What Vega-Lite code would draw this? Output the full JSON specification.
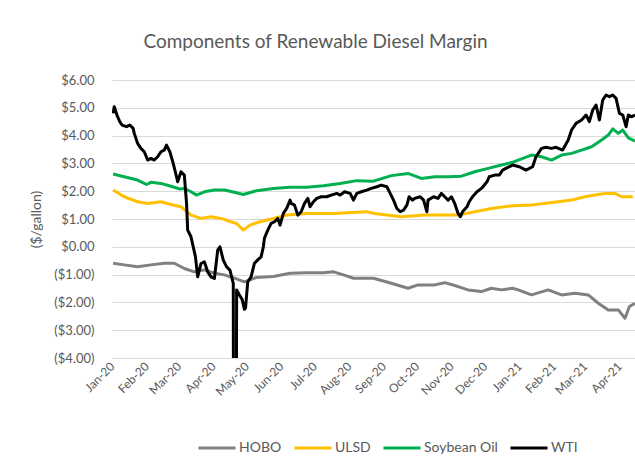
{
  "$schema": "https://vega.github.io/schema/vega-lite/v6.json",
  "width": 523,
  "height": 278,
  "autosize": {"type": "none"},
  "padding": {"left": 112, "top": 80, "right": 0, "bottom": 108},
  "background": "white",
  "config": {
    "view": {"stroke": null},
    "font": "Lato"
  },
  "title": {
    "text": "Components of Renewable Diesel Margin",
    "anchor": "middle",
    "dx": -58,
    "offset": 22,
    "fontSize": 19,
    "font": "Lato",
    "fontWeight": "normal",
    "color": "#595959"
  },
  "data": {
    "values": [
      {"d": "2020-01-02", "s": "HOBO", "v": -0.59},
      {"d": "2020-01-12", "s": "HOBO", "v": -0.65},
      {"d": "2020-01-24", "s": "HOBO", "v": -0.72},
      {"d": "2020-02-05", "s": "HOBO", "v": -0.65},
      {"d": "2020-02-17", "s": "HOBO", "v": -0.59},
      {"d": "2020-02-26", "s": "HOBO", "v": -0.59},
      {"d": "2020-03-06", "s": "HOBO", "v": -0.78},
      {"d": "2020-03-15", "s": "HOBO", "v": -0.9},
      {"d": "2020-03-24", "s": "HOBO", "v": -0.83},
      {"d": "2020-04-02", "s": "HOBO", "v": -0.95},
      {"d": "2020-04-11", "s": "HOBO", "v": -1.01},
      {"d": "2020-04-20", "s": "HOBO", "v": -1.13},
      {"d": "2020-04-29", "s": "HOBO", "v": -1.26},
      {"d": "2020-05-10", "s": "HOBO", "v": -1.1},
      {"d": "2020-05-25", "s": "HOBO", "v": -1.07},
      {"d": "2020-06-09", "s": "HOBO", "v": -0.95},
      {"d": "2020-06-24", "s": "HOBO", "v": -0.93},
      {"d": "2020-07-09", "s": "HOBO", "v": -0.93},
      {"d": "2020-07-18", "s": "HOBO", "v": -0.9},
      {"d": "2020-07-27", "s": "HOBO", "v": -1.01},
      {"d": "2020-08-05", "s": "HOBO", "v": -1.13},
      {"d": "2020-08-23", "s": "HOBO", "v": -1.13},
      {"d": "2020-09-08", "s": "HOBO", "v": -1.31},
      {"d": "2020-09-23", "s": "HOBO", "v": -1.49},
      {"d": "2020-10-02", "s": "HOBO", "v": -1.37},
      {"d": "2020-10-17", "s": "HOBO", "v": -1.37},
      {"d": "2020-10-26", "s": "HOBO", "v": -1.29},
      {"d": "2020-11-07", "s": "HOBO", "v": -1.43},
      {"d": "2020-11-16", "s": "HOBO", "v": -1.55},
      {"d": "2020-11-28", "s": "HOBO", "v": -1.61},
      {"d": "2020-12-07", "s": "HOBO", "v": -1.49},
      {"d": "2020-12-16", "s": "HOBO", "v": -1.55},
      {"d": "2020-12-26", "s": "HOBO", "v": -1.49},
      {"d": "2020-12-31", "s": "HOBO", "v": -1.55},
      {"d": "2021-01-12", "s": "HOBO", "v": -1.73},
      {"d": "2021-01-27", "s": "HOBO", "v": -1.55},
      {"d": "2021-02-08", "s": "HOBO", "v": -1.73},
      {"d": "2021-02-20", "s": "HOBO", "v": -1.67},
      {"d": "2021-03-04", "s": "HOBO", "v": -1.73},
      {"d": "2021-03-13", "s": "HOBO", "v": -2.03},
      {"d": "2021-03-22", "s": "HOBO", "v": -2.27},
      {"d": "2021-03-31", "s": "HOBO", "v": -2.27},
      {"d": "2021-04-06", "s": "HOBO", "v": -2.57},
      {"d": "2021-04-10", "s": "HOBO", "v": -2.15},
      {"d": "2021-04-15", "s": "HOBO", "v": -2.03},

      {"d": "2020-01-02", "s": "ULSD", "v": 2.04},
      {"d": "2020-01-12", "s": "ULSD", "v": 1.8},
      {"d": "2020-01-24", "s": "ULSD", "v": 1.62},
      {"d": "2020-02-02", "s": "ULSD", "v": 1.56},
      {"d": "2020-02-14", "s": "ULSD", "v": 1.62},
      {"d": "2020-02-23", "s": "ULSD", "v": 1.52},
      {"d": "2020-03-03", "s": "ULSD", "v": 1.44},
      {"d": "2020-03-12", "s": "ULSD", "v": 1.14},
      {"d": "2020-03-21", "s": "ULSD", "v": 1.02},
      {"d": "2020-03-30", "s": "ULSD", "v": 1.08},
      {"d": "2020-04-08", "s": "ULSD", "v": 1.02},
      {"d": "2020-04-17", "s": "ULSD", "v": 0.9},
      {"d": "2020-04-22", "s": "ULSD", "v": 0.84},
      {"d": "2020-04-28", "s": "ULSD", "v": 0.6},
      {"d": "2020-05-04", "s": "ULSD", "v": 0.78},
      {"d": "2020-05-13", "s": "ULSD", "v": 0.9},
      {"d": "2020-05-25", "s": "ULSD", "v": 1.02},
      {"d": "2020-06-06", "s": "ULSD", "v": 1.14},
      {"d": "2020-06-24", "s": "ULSD", "v": 1.2},
      {"d": "2020-07-18", "s": "ULSD", "v": 1.2},
      {"d": "2020-08-17", "s": "ULSD", "v": 1.26},
      {"d": "2020-08-24", "s": "ULSD", "v": 1.2},
      {"d": "2020-09-17", "s": "ULSD", "v": 1.08},
      {"d": "2020-10-08", "s": "ULSD", "v": 1.14},
      {"d": "2020-11-07", "s": "ULSD", "v": 1.14},
      {"d": "2020-11-22", "s": "ULSD", "v": 1.26},
      {"d": "2020-12-07", "s": "ULSD", "v": 1.38},
      {"d": "2020-12-26", "s": "ULSD", "v": 1.48},
      {"d": "2021-01-12", "s": "ULSD", "v": 1.5},
      {"d": "2021-02-05", "s": "ULSD", "v": 1.62},
      {"d": "2021-02-17", "s": "ULSD", "v": 1.68},
      {"d": "2021-03-01", "s": "ULSD", "v": 1.8},
      {"d": "2021-03-10", "s": "ULSD", "v": 1.86},
      {"d": "2021-03-19", "s": "ULSD", "v": 1.92},
      {"d": "2021-03-28", "s": "ULSD", "v": 1.92},
      {"d": "2021-04-03", "s": "ULSD", "v": 1.8},
      {"d": "2021-04-13", "s": "ULSD", "v": 1.8},

      {"d": "2020-01-02", "s": "Soybean Oil", "v": 2.62},
      {"d": "2020-01-12", "s": "Soybean Oil", "v": 2.52},
      {"d": "2020-01-24", "s": "Soybean Oil", "v": 2.4},
      {"d": "2020-02-01", "s": "Soybean Oil", "v": 2.24},
      {"d": "2020-02-05", "s": "Soybean Oil", "v": 2.32},
      {"d": "2020-02-14", "s": "Soybean Oil", "v": 2.28},
      {"d": "2020-02-23", "s": "Soybean Oil", "v": 2.18},
      {"d": "2020-03-02", "s": "Soybean Oil", "v": 2.08},
      {"d": "2020-03-06", "s": "Soybean Oil", "v": 2.1},
      {"d": "2020-03-12", "s": "Soybean Oil", "v": 1.98},
      {"d": "2020-03-17", "s": "Soybean Oil", "v": 1.86},
      {"d": "2020-03-24", "s": "Soybean Oil", "v": 1.98},
      {"d": "2020-04-02", "s": "Soybean Oil", "v": 2.04},
      {"d": "2020-04-11", "s": "Soybean Oil", "v": 2.04},
      {"d": "2020-04-20", "s": "Soybean Oil", "v": 1.96},
      {"d": "2020-04-28", "s": "Soybean Oil", "v": 1.88},
      {"d": "2020-05-10", "s": "Soybean Oil", "v": 2.02},
      {"d": "2020-05-25", "s": "Soybean Oil", "v": 2.1},
      {"d": "2020-06-09", "s": "Soybean Oil", "v": 2.14},
      {"d": "2020-06-24", "s": "Soybean Oil", "v": 2.14},
      {"d": "2020-07-09", "s": "Soybean Oil", "v": 2.2},
      {"d": "2020-07-24", "s": "Soybean Oil", "v": 2.28},
      {"d": "2020-08-08", "s": "Soybean Oil", "v": 2.38},
      {"d": "2020-08-23", "s": "Soybean Oil", "v": 2.36},
      {"d": "2020-09-08", "s": "Soybean Oil", "v": 2.56},
      {"d": "2020-09-23", "s": "Soybean Oil", "v": 2.64},
      {"d": "2020-10-05", "s": "Soybean Oil", "v": 2.46},
      {"d": "2020-10-17", "s": "Soybean Oil", "v": 2.52},
      {"d": "2020-10-29", "s": "Soybean Oil", "v": 2.52},
      {"d": "2020-11-10", "s": "Soybean Oil", "v": 2.54},
      {"d": "2020-11-22", "s": "Soybean Oil", "v": 2.7},
      {"d": "2020-12-04", "s": "Soybean Oil", "v": 2.82},
      {"d": "2020-12-16", "s": "Soybean Oil", "v": 2.94},
      {"d": "2020-12-26", "s": "Soybean Oil", "v": 3.04},
      {"d": "2020-12-31", "s": "Soybean Oil", "v": 3.12},
      {"d": "2021-01-12", "s": "Soybean Oil", "v": 3.3},
      {"d": "2021-01-21", "s": "Soybean Oil", "v": 3.24},
      {"d": "2021-01-30", "s": "Soybean Oil", "v": 3.12},
      {"d": "2021-02-08", "s": "Soybean Oil", "v": 3.3},
      {"d": "2021-02-17", "s": "Soybean Oil", "v": 3.36},
      {"d": "2021-02-26", "s": "Soybean Oil", "v": 3.48},
      {"d": "2021-03-07", "s": "Soybean Oil", "v": 3.6},
      {"d": "2021-03-16", "s": "Soybean Oil", "v": 3.84},
      {"d": "2021-03-22", "s": "Soybean Oil", "v": 4.02},
      {"d": "2021-03-26", "s": "Soybean Oil", "v": 4.24},
      {"d": "2021-03-31", "s": "Soybean Oil", "v": 4.08},
      {"d": "2021-04-04", "s": "Soybean Oil", "v": 4.2},
      {"d": "2021-04-09", "s": "Soybean Oil", "v": 3.92},
      {"d": "2021-04-15", "s": "Soybean Oil", "v": 3.8},

      {"d": "2020-01-02", "s": "WTI", "v": 4.8},
      {"d": "2020-01-03", "s": "WTI", "v": 5.04},
      {"d": "2020-01-06", "s": "WTI", "v": 4.68},
      {"d": "2020-01-08", "s": "WTI", "v": 4.5},
      {"d": "2020-01-10", "s": "WTI", "v": 4.38},
      {"d": "2020-01-14", "s": "WTI", "v": 4.32},
      {"d": "2020-01-17", "s": "WTI", "v": 4.38},
      {"d": "2020-01-20", "s": "WTI", "v": 4.26},
      {"d": "2020-01-21", "s": "WTI", "v": 4.08},
      {"d": "2020-01-24", "s": "WTI", "v": 3.72},
      {"d": "2020-01-27", "s": "WTI", "v": 3.54},
      {"d": "2020-01-30", "s": "WTI", "v": 3.42},
      {"d": "2020-02-02", "s": "WTI", "v": 3.12},
      {"d": "2020-02-05", "s": "WTI", "v": 3.18},
      {"d": "2020-02-08", "s": "WTI", "v": 3.12},
      {"d": "2020-02-11", "s": "WTI", "v": 3.24},
      {"d": "2020-02-14", "s": "WTI", "v": 3.42},
      {"d": "2020-02-17", "s": "WTI", "v": 3.48},
      {"d": "2020-02-19", "s": "WTI", "v": 3.66},
      {"d": "2020-02-22", "s": "WTI", "v": 3.42},
      {"d": "2020-02-25", "s": "WTI", "v": 3.0},
      {"d": "2020-02-28", "s": "WTI", "v": 2.52},
      {"d": "2020-02-29", "s": "WTI", "v": 2.34},
      {"d": "2020-03-03", "s": "WTI", "v": 2.7},
      {"d": "2020-03-06", "s": "WTI", "v": 2.58},
      {"d": "2020-03-08", "s": "WTI", "v": 1.56},
      {"d": "2020-03-09", "s": "WTI", "v": 0.6},
      {"d": "2020-03-12", "s": "WTI", "v": 0.36},
      {"d": "2020-03-14", "s": "WTI", "v": 0.0},
      {"d": "2020-03-16", "s": "WTI", "v": -0.36},
      {"d": "2020-03-18", "s": "WTI", "v": -1.08},
      {"d": "2020-03-21", "s": "WTI", "v": -0.6},
      {"d": "2020-03-24", "s": "WTI", "v": -0.54},
      {"d": "2020-03-27", "s": "WTI", "v": -0.9},
      {"d": "2020-03-30", "s": "WTI", "v": -1.08},
      {"d": "2020-04-02", "s": "WTI", "v": -1.14},
      {"d": "2020-04-05", "s": "WTI", "v": -0.12},
      {"d": "2020-04-07", "s": "WTI", "v": 0.0},
      {"d": "2020-04-10", "s": "WTI", "v": -0.48},
      {"d": "2020-04-13", "s": "WTI", "v": -0.72},
      {"d": "2020-04-16", "s": "WTI", "v": -0.84},
      {"d": "2020-04-19", "s": "WTI", "v": -1.32},
      {"d": "2020-04-20", "s": "WTI", "v": -37.6},
      {"d": "2020-04-22", "s": "WTI", "v": -1.55},
      {"d": "2020-04-24", "s": "WTI", "v": -1.7},
      {"d": "2020-04-27", "s": "WTI", "v": -1.9},
      {"d": "2020-04-29", "s": "WTI", "v": -2.25},
      {"d": "2020-04-30", "s": "WTI", "v": -2.2},
      {"d": "2020-05-02", "s": "WTI", "v": -1.26},
      {"d": "2020-05-05", "s": "WTI", "v": -1.08},
      {"d": "2020-05-08", "s": "WTI", "v": -0.59},
      {"d": "2020-05-11", "s": "WTI", "v": -0.47},
      {"d": "2020-05-14", "s": "WTI", "v": -0.36},
      {"d": "2020-05-16", "s": "WTI", "v": 0.0},
      {"d": "2020-05-17", "s": "WTI", "v": 0.31},
      {"d": "2020-05-20", "s": "WTI", "v": 0.6},
      {"d": "2020-05-23", "s": "WTI", "v": 0.84},
      {"d": "2020-05-26", "s": "WTI", "v": 0.9},
      {"d": "2020-05-29", "s": "WTI", "v": 1.02},
      {"d": "2020-05-31", "s": "WTI", "v": 0.78},
      {"d": "2020-06-03", "s": "WTI", "v": 1.2},
      {"d": "2020-06-06", "s": "WTI", "v": 1.38},
      {"d": "2020-06-09", "s": "WTI", "v": 1.68},
      {"d": "2020-06-10", "s": "WTI", "v": 1.56},
      {"d": "2020-06-13", "s": "WTI", "v": 1.5},
      {"d": "2020-06-16", "s": "WTI", "v": 1.14},
      {"d": "2020-06-19", "s": "WTI", "v": 1.26},
      {"d": "2020-06-22", "s": "WTI", "v": 1.56},
      {"d": "2020-06-25", "s": "WTI", "v": 1.74},
      {"d": "2020-06-27", "s": "WTI", "v": 1.44},
      {"d": "2020-06-30", "s": "WTI", "v": 1.62},
      {"d": "2020-07-03", "s": "WTI", "v": 1.74},
      {"d": "2020-07-07", "s": "WTI", "v": 1.8},
      {"d": "2020-07-12", "s": "WTI", "v": 1.8},
      {"d": "2020-07-16", "s": "WTI", "v": 1.86},
      {"d": "2020-07-21", "s": "WTI", "v": 1.92},
      {"d": "2020-07-24", "s": "WTI", "v": 1.86},
      {"d": "2020-07-28", "s": "WTI", "v": 1.98},
      {"d": "2020-08-02", "s": "WTI", "v": 1.92},
      {"d": "2020-08-05", "s": "WTI", "v": 1.68},
      {"d": "2020-08-08", "s": "WTI", "v": 1.92},
      {"d": "2020-08-12", "s": "WTI", "v": 1.98},
      {"d": "2020-08-17", "s": "WTI", "v": 2.04},
      {"d": "2020-08-21", "s": "WTI", "v": 2.1},
      {"d": "2020-08-26", "s": "WTI", "v": 2.16},
      {"d": "2020-08-30", "s": "WTI", "v": 2.22},
      {"d": "2020-09-04", "s": "WTI", "v": 2.16},
      {"d": "2020-09-07", "s": "WTI", "v": 1.92},
      {"d": "2020-09-10", "s": "WTI", "v": 1.68},
      {"d": "2020-09-13", "s": "WTI", "v": 1.38},
      {"d": "2020-09-16", "s": "WTI", "v": 1.26},
      {"d": "2020-09-19", "s": "WTI", "v": 1.32},
      {"d": "2020-09-22", "s": "WTI", "v": 1.5},
      {"d": "2020-09-24", "s": "WTI", "v": 1.8},
      {"d": "2020-09-27", "s": "WTI", "v": 1.68},
      {"d": "2020-09-29", "s": "WTI", "v": 1.74},
      {"d": "2020-10-04", "s": "WTI", "v": 1.8},
      {"d": "2020-10-07", "s": "WTI", "v": 1.68},
      {"d": "2020-10-10", "s": "WTI", "v": 1.26},
      {"d": "2020-10-11", "s": "WTI", "v": 1.68},
      {"d": "2020-10-16", "s": "WTI", "v": 1.8},
      {"d": "2020-10-20", "s": "WTI", "v": 1.74},
      {"d": "2020-10-23", "s": "WTI", "v": 1.92},
      {"d": "2020-10-26", "s": "WTI", "v": 1.8},
      {"d": "2020-10-29", "s": "WTI", "v": 1.68},
      {"d": "2020-11-01", "s": "WTI", "v": 1.8},
      {"d": "2020-11-04", "s": "WTI", "v": 1.56},
      {"d": "2020-11-07", "s": "WTI", "v": 1.2},
      {"d": "2020-11-09", "s": "WTI", "v": 1.08},
      {"d": "2020-11-11", "s": "WTI", "v": 1.26},
      {"d": "2020-11-15", "s": "WTI", "v": 1.44},
      {"d": "2020-11-17", "s": "WTI", "v": 1.62},
      {"d": "2020-11-20", "s": "WTI", "v": 1.8},
      {"d": "2020-11-24", "s": "WTI", "v": 1.98},
      {"d": "2020-11-28", "s": "WTI", "v": 2.1},
      {"d": "2020-12-03", "s": "WTI", "v": 2.34},
      {"d": "2020-12-05", "s": "WTI", "v": 2.52},
      {"d": "2020-12-10", "s": "WTI", "v": 2.58},
      {"d": "2020-12-14", "s": "WTI", "v": 2.58},
      {"d": "2020-12-17", "s": "WTI", "v": 2.76},
      {"d": "2020-12-20", "s": "WTI", "v": 2.82},
      {"d": "2020-12-26", "s": "WTI", "v": 2.94},
      {"d": "2021-01-01", "s": "WTI", "v": 2.88},
      {"d": "2021-01-07", "s": "WTI", "v": 2.76},
      {"d": "2021-01-13", "s": "WTI", "v": 2.88},
      {"d": "2021-01-16", "s": "WTI", "v": 3.24},
      {"d": "2021-01-21", "s": "WTI", "v": 3.54},
      {"d": "2021-01-25", "s": "WTI", "v": 3.58},
      {"d": "2021-01-30", "s": "WTI", "v": 3.54},
      {"d": "2021-02-03", "s": "WTI", "v": 3.58},
      {"d": "2021-02-09", "s": "WTI", "v": 3.48},
      {"d": "2021-02-14", "s": "WTI", "v": 3.84},
      {"d": "2021-02-17", "s": "WTI", "v": 4.2},
      {"d": "2021-02-21", "s": "WTI", "v": 4.44},
      {"d": "2021-02-26", "s": "WTI", "v": 4.56},
      {"d": "2021-03-02", "s": "WTI", "v": 4.74},
      {"d": "2021-03-05", "s": "WTI", "v": 4.5},
      {"d": "2021-03-08", "s": "WTI", "v": 4.92},
      {"d": "2021-03-11", "s": "WTI", "v": 5.1},
      {"d": "2021-03-14", "s": "WTI", "v": 4.56},
      {"d": "2021-03-17", "s": "WTI", "v": 5.28},
      {"d": "2021-03-20", "s": "WTI", "v": 5.46},
      {"d": "2021-03-23", "s": "WTI", "v": 5.4},
      {"d": "2021-03-26", "s": "WTI", "v": 5.46},
      {"d": "2021-03-29", "s": "WTI", "v": 5.34},
      {"d": "2021-04-01", "s": "WTI", "v": 4.8},
      {"d": "2021-04-04", "s": "WTI", "v": 4.74},
      {"d": "2021-04-07", "s": "WTI", "v": 4.32},
      {"d": "2021-04-09", "s": "WTI", "v": 4.74},
      {"d": "2021-04-12", "s": "WTI", "v": 4.68},
      {"d": "2021-04-15", "s": "WTI", "v": 4.74}
    ]
  },
  "mark": {"type": "line", "clip": true, "strokeWidth": 3, "strokeJoin": "round", "strokeCap": "butt"},
  "encoding": {
    "x": {
      "field": "d",
      "type": "temporal",
      "scale": {
        "type": "utc",
        "domain": [
          {"year": 2020, "month": 1, "date": 1, "utc": true},
          {"year": 2021, "month": 4, "date": 15, "utc": true}
        ]
      },
      "axis": {
        "title": null,
        "labelExpr": "utcFormat(datum.value, '%b-%y')",
        "values": [
          {"year": 2020, "month": 1, "date": 1, "utc": true},
          {"year": 2020, "month": 2, "date": 1, "utc": true},
          {"year": 2020, "month": 3, "date": 1, "utc": true},
          {"year": 2020, "month": 4, "date": 1, "utc": true},
          {"year": 2020, "month": 5, "date": 1, "utc": true},
          {"year": 2020, "month": 6, "date": 1, "utc": true},
          {"year": 2020, "month": 7, "date": 1, "utc": true},
          {"year": 2020, "month": 8, "date": 1, "utc": true},
          {"year": 2020, "month": 9, "date": 1, "utc": true},
          {"year": 2020, "month": 10, "date": 1, "utc": true},
          {"year": 2020, "month": 11, "date": 1, "utc": true},
          {"year": 2020, "month": 12, "date": 1, "utc": true},
          {"year": 2021, "month": 1, "date": 1, "utc": true},
          {"year": 2021, "month": 2, "date": 1, "utc": true},
          {"year": 2021, "month": 3, "date": 1, "utc": true},
          {"year": 2021, "month": 4, "date": 1, "utc": true}
        ],
        "labelAngle": -45,
        "labelAlign": "right",
        "labelBaseline": "middle",
        "labelPadding": 6,
        "labelFont": "Lato",
        "labelFontSize": 12,
        "labelColor": "#595959",
        "labelOverlap": false,
        "labelFlush": false,
        "ticks": false,
        "grid": false,
        "domain": true,
        "domainColor": "#d9d9d9",
        "domainWidth": 1
      }
    },
    "y": {
      "field": "v",
      "type": "quantitative",
      "scale": {"domain": [-4, 6], "nice": false, "zero": false},
      "axis": {
        "title": "($/gallon)",
        "titleFont": "Lato",
        "titleFontSize": 14,
        "titleFontWeight": "normal",
        "titleColor": "#595959",
        "titlePadding": 10,
        "values": [-4, -3, -2, -1, 0, 1, 2, 3, 4, 5, 6],
        "labelExpr": "datum.value < 0 ? '($' + format(-datum.value, '.2f') + ')' : '$' + format(datum.value, '.2f')",
        "labelFont": "Lato",
        "labelFontSize": 13,
        "labelColor": "#595959",
        "labelPadding": 18,
        "ticks": false,
        "domain": false,
        "grid": true,
        "gridColor": "#d9d9d9",
        "gridWidth": 1
      }
    },
    "color": {
      "field": "s",
      "type": "nominal",
      "scale": {
        "domain": ["HOBO", "ULSD", "Soybean Oil", "WTI"],
        "range": ["#808080", "#ffc000", "#00b050", "#000000"]
      },
      "legend": {
        "title": null,
        "orient": "none",
        "direction": "horizontal",
        "legendX": 85,
        "legendY": 348,
        "symbolType": "stroke",
        "symbolSize": 1369,
        "symbolStrokeWidth": 3,
        "labelFont": "Lato",
        "labelFontSize": 14,
        "labelColor": "#595959",
        "labelOffset": 2,
        "columnPadding": 6,
        "padding": 0
      }
    }
  }
}
